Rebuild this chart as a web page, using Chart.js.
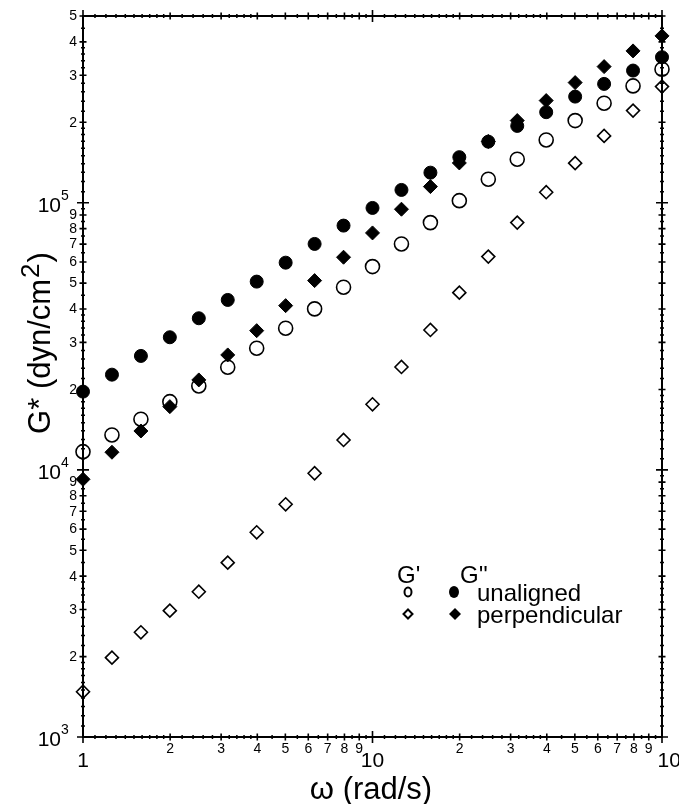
<!DOCTYPE html>
<html>
<head>
<meta charset="utf-8">
<script src="https://cdn.jsdelivr.net/npm/chart.js@4/dist/chart.umd.min.js"></script>
<style>
  html, body { margin: 0; padding: 0; background: #fff; }
  #wrap { width: 679px; height: 804px; }
</style>
</head>
<body>
<div id="wrap"><canvas id="chart" width="679" height="804"></canvas></div>
<script>
// frequencies (rad/s)
const omega = [1, 1.259, 1.585, 1.995, 2.512, 3.162, 3.981, 5.012, 6.31, 7.943,
  10, 12.59, 15.85, 19.95, 25.12, 31.62, 39.81, 50.12, 63.1, 79.43, 100];

// G'' unaligned (filled circles)
const gLossUnaligned = [19630, 22720, 26700, 31360, 36940, 43260, 50660, 59650, 70100, 82100,
  95600, 111650, 129600, 148100, 169300, 193900, 218200, 249600, 278500, 312400, 350600];
// G'' perpendicular (filled diamonds)
const gLossPerp = [9220, 11640, 13980, 17245, 21710, 26930, 33200, 41190, 51100, 62510,
  77080, 94560, 114900, 140900, 169600, 203000, 241200, 281600, 323200, 370100, 421200];
// G' unaligned (open circles)
const gStoreUnaligned = [11700, 13510, 15470, 18000, 20610, 24220, 28530, 33900, 40050, 48280,
  57660, 70100, 84240, 101800, 122500, 145500, 171800, 203000, 235800, 273700, 316100];
// G' perpendicular (open diamonds)
const gStorePerp = [1477, 1981, 2466, 2971, 3499, 4493, 5840, 7434, 9712, 12940,
  17600, 24280, 33400, 46070, 62840, 84240, 109500, 140600, 177900, 221200, 272100];

// axis ticks and labels
const xMajorTicks = [1, 10, 100];
const xMajorLabels = ['1', '10', '100'];
const xMinorTicks = [2, 3, 4, 5, 6, 7, 8, 9, 20, 30, 40, 50, 60, 70, 80, 90];
const xMinorLabels = ['2', '3', '4', '5', '6', '7', '8', '9', '2', '3', '4', '5', '6', '7', '8', '9'];
const yMajorTicks = [1e3, 1e4, 1e5];
const yMajorExps = ['3', '4', '5'];
const yMinorTicks = [2e3, 3e3, 4e3, 5e3, 6e3, 7e3, 8e3, 9e3,
  2e4, 3e4, 4e4, 5e4, 6e4, 7e4, 8e4, 9e4, 2e5, 3e5, 4e5, 5e5];
const yMinorLabels = ['2', '3', '4', '5', '6', '7', '8', '9',
  '2', '3', '4', '5', '6', '7', '8', '9', '2', '3', '4', '5'];
const subSteps = [1.1, 1.2, 1.3, 1.4, 1.5, 1.6, 1.7, 1.8, 1.9, 2.2, 2.4, 2.6, 2.8,
  3.2, 3.4, 3.6, 3.8, 4.5, 5.5, 6.5, 7.5, 8.5, 9.5];

const FONT = '"Liberation Sans", Arial, Helvetica, sans-serif';

function pts(ys) {
  return omega.map((w, i) => ({ x: w, y: ys[i] }));
}

const drawFrame = {
  id: 'drawFrame',
  afterDatasetsDraw(chart) {
    const { ctx, chartArea: a, scales: { x, y } } = chart;
    ctx.save();
    ctx.strokeStyle = '#000';
    ctx.fillStyle = '#000';

    // frame
    ctx.lineWidth = 2;
    ctx.strokeRect(a.left, a.top, a.right - a.left, a.bottom - a.top);

    function xTick(v, len, lw) {
      const px = x.getPixelForValue(v);
      ctx.lineWidth = lw;
      ctx.beginPath();
      ctx.moveTo(px, a.bottom - len); ctx.lineTo(px, a.bottom + len);
      ctx.moveTo(px, a.top - len); ctx.lineTo(px, a.top + len);
      ctx.stroke();
    }
    function yTick(v, len, lw) {
      const py = y.getPixelForValue(v);
      ctx.lineWidth = lw;
      ctx.beginPath();
      ctx.moveTo(a.left - len, py); ctx.lineTo(a.left + len, py);
      ctx.moveTo(a.right - len, py); ctx.lineTo(a.right + len, py);
      ctx.stroke();
    }

    // sub-minor ticks
    [1, 10].forEach(d => subSteps.forEach(s => xTick(d * s, 2, 1.5)));
    [1e3, 1e4, 1e5].forEach(d => subSteps.forEach(s => {
      if (d * s < 5e5) yTick(d * s, 2, 1.5);
    }));
    xMinorTicks.forEach(v => xTick(v, 3.5, 1.6));
    yMinorTicks.forEach(v => yTick(v, 3.5, 1.6));
    xMajorTicks.forEach(v => xTick(v, 6, 1.6));
    yMajorTicks.forEach(v => yTick(v, 6, 1.6));

    // x labels
    ctx.textAlign = 'center';
    ctx.textBaseline = 'alphabetic';
    ctx.font = '14px ' + FONT;
    xMinorTicks.forEach((v, i) => {
      ctx.fillText(xMinorLabels[i], x.getPixelForValue(v), 753);
    });
    ctx.font = '21px ' + FONT;
    xMajorTicks.forEach((v, i) => {
      let px = x.getPixelForValue(v);
      if (i === 2) px += 13;
      ctx.fillText(xMajorLabels[i], px, 767);
    });

    // y labels
    ctx.textAlign = 'right';
    ctx.textBaseline = 'middle';
    ctx.font = '14px ' + FONT;
    yMinorTicks.forEach((v, i) => {
      ctx.fillText(yMinorLabels[i], 77, y.getPixelForValue(v) + 0.5);
    });
    ctx.textBaseline = 'alphabetic';
    yMajorTicks.forEach((v, i) => {
      const py = y.getPixelForValue(v);
      ctx.textAlign = 'right';
      ctx.font = '21px ' + FONT;
      ctx.fillText('10', 61, py + 9);
      ctx.textAlign = 'left';
      ctx.font = '14px ' + FONT;
      ctx.fillText(yMajorExps[i], 61, py - 3);
    });

    // x title
    ctx.textAlign = 'center';
    ctx.font = '31px ' + FONT;
    ctx.fillText('\u03c9 (rad/s)', 371, 799);

    // y title, rotated
    ctx.save();
    ctx.translate(50, 344);
    ctx.rotate(-Math.PI / 2);
    ctx.textAlign = 'left';
    const mainFont = '31px ' + FONT, supFont = '26px ' + FONT;
    ctx.font = mainFont;
    const w1 = ctx.measureText('G* (dyn/cm').width;
    const w3 = ctx.measureText(')').width;
    ctx.font = supFont;
    const w2 = ctx.measureText('2').width;
    let sx = -(w1 + w2 + w3) / 2;
    ctx.font = mainFont;
    ctx.fillText('G* (dyn/cm', sx, 0);
    ctx.font = supFont;
    ctx.fillText('2', sx + w1 + 1, -11);
    ctx.font = mainFont;
    ctx.fillText(')', sx + w1 + w2 + 2, 0);
    ctx.restore();

    // legend
    ctx.textAlign = 'left';
    ctx.font = '24px ' + FONT;
    ctx.fillText("G'", 397, 583);
    ctx.fillText("G''", 460, 583);
    ctx.fillText('unaligned', 477, 601);
    ctx.fillText('perpendicular', 477, 623);

    ctx.lineWidth = 2;
    ctx.beginPath();
    ctx.ellipse(408, 592, 3.5, 4.5, 0, 0, Math.PI * 2);
    ctx.stroke();
    ctx.beginPath();
    ctx.ellipse(454, 592, 5, 6, 0, 0, Math.PI * 2);
    ctx.fill();
    function diamond(cx, cy, r) {
      ctx.beginPath();
      ctx.moveTo(cx, cy - r); ctx.lineTo(cx + r, cy);
      ctx.lineTo(cx, cy + r); ctx.lineTo(cx - r, cy);
      ctx.closePath();
    }
    diamond(408, 614, 4.5); ctx.stroke();
    diamond(455, 614, 6); ctx.fill();

    ctx.restore();
  }
};

new Chart(document.getElementById('chart').getContext('2d'), {
  type: 'scatter',
  data: {
    datasets: [
      {
        label: "G'' unaligned",
        data: pts(gLossUnaligned),
        pointStyle: 'circle',
        pointRadius: 6.5,
        backgroundColor: '#000',
        borderColor: '#000',
        borderWidth: 1
      },
      {
        label: "G'' perpendicular",
        data: pts(gLossPerp),
        pointStyle: 'rectRot',
        pointRadius: 7,
        backgroundColor: '#000',
        borderColor: '#000',
        borderWidth: 1
      },
      {
        label: "G' unaligned",
        data: pts(gStoreUnaligned),
        pointStyle: 'circle',
        pointRadius: 7,
        backgroundColor: 'rgba(0,0,0,0)',
        borderColor: '#000',
        borderWidth: 1.6
      },
      {
        label: "G' perpendicular",
        data: pts(gStorePerp),
        pointStyle: 'rectRot',
        pointRadius: 6.5,
        backgroundColor: 'rgba(0,0,0,0)',
        borderColor: '#000',
        borderWidth: 1.6
      }
    ]
  },
  options: {
    responsive: false,
    animation: false,
    events: [],
    clip: false,
    layout: { padding: { left: 83, right: 17, top: 16, bottom: 67 } },
    scales: {
      x: { type: 'logarithmic', min: 1, max: 100, display: false },
      y: { type: 'logarithmic', min: 1000, max: 500000, display: false }
    },
    plugins: {
      legend: { display: false },
      tooltip: { enabled: false }
    }
  },
  plugins: [drawFrame]
});
</script>
</body>
</html>
